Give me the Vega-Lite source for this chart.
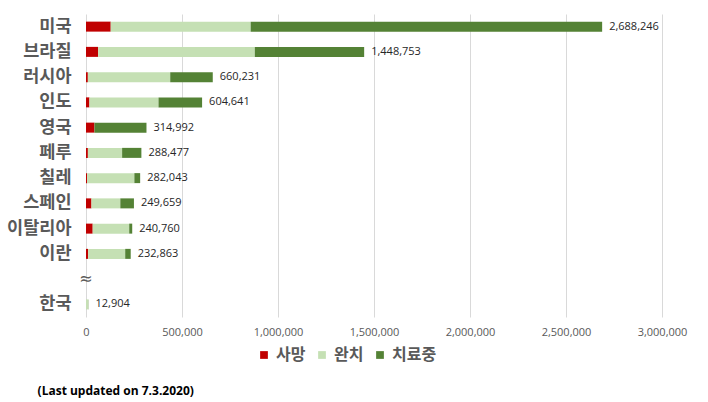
{
  "$schema": "https://vega.github.io/schema/vega-lite/v6.json",
  "width": 576,
  "height": 303,
  "autosize": {"type": "none"},
  "padding": {"left": 86, "top": 14, "right": 46, "bottom": 85},
  "background": "white",
  "title": {
    "text": "(Last updated on 7.3.2020)",
    "orient": "bottom",
    "anchor": "start",
    "dx": 31,
    "offset": 23,
    "font": "Open Sans",
    "fontSize": 12,
    "fontWeight": "bold",
    "color": "#000000"
  },
  "datasets": {
    "cases": [
      {"country": "미국", "status": "사망", "ord": 1, "value": 128740},
      {"country": "미국", "status": "완치", "ord": 2, "value": 729000},
      {"country": "미국", "status": "치료중", "ord": 3, "value": 1830506},
      {"country": "브라질", "status": "사망", "ord": 1, "value": 63174},
      {"country": "브라질", "status": "완치", "ord": 2, "value": 816000},
      {"country": "브라질", "status": "치료중", "ord": 3, "value": 569579},
      {"country": "러시아", "status": "사망", "ord": 1, "value": 9683},
      {"country": "러시아", "status": "완치", "ord": 2, "value": 428978},
      {"country": "러시아", "status": "치료중", "ord": 3, "value": 221570},
      {"country": "인도", "status": "사망", "ord": 1, "value": 17834},
      {"country": "인도", "status": "완치", "ord": 2, "value": 359860},
      {"country": "인도", "status": "치료중", "ord": 3, "value": 226947},
      {"country": "영국", "status": "사망", "ord": 1, "value": 43906},
      {"country": "영국", "status": "완치", "ord": 2, "value": 0},
      {"country": "영국", "status": "치료중", "ord": 3, "value": 271086},
      {"country": "페루", "status": "사망", "ord": 1, "value": 9860},
      {"country": "페루", "status": "완치", "ord": 2, "value": 178245},
      {"country": "페루", "status": "치료중", "ord": 3, "value": 100372},
      {"country": "칠레", "status": "사망", "ord": 1, "value": 5920},
      {"country": "칠레", "status": "완치", "ord": 2, "value": 246000},
      {"country": "칠레", "status": "치료중", "ord": 3, "value": 30123},
      {"country": "스페인", "status": "사망", "ord": 1, "value": 28385},
      {"country": "스페인", "status": "완치", "ord": 2, "value": 150376},
      {"country": "스페인", "status": "치료중", "ord": 3, "value": 70898},
      {"country": "이탈리아", "status": "사망", "ord": 1, "value": 34818},
      {"country": "이탈리아", "status": "완치", "ord": 2, "value": 190248},
      {"country": "이탈리아", "status": "치료중", "ord": 3, "value": 15694},
      {"country": "이란", "status": "사망", "ord": 1, "value": 10958},
      {"country": "이란", "status": "완치", "ord": 2, "value": 193217},
      {"country": "이란", "status": "치료중", "ord": 3, "value": 28688},
      {"country": "한국", "status": "사망", "ord": 1, "value": 282},
      {"country": "한국", "status": "완치", "ord": 2, "value": 11537},
      {"country": "한국", "status": "치료중", "ord": 3, "value": 1085}
    ],
    "gap": [{"country": " ", "sym": "≈", "value": 0}]
  },
  "config": {
    "view": {"stroke": null},
    "axis": {"labelFont": "Open Sans"}
  },
  "layer": [
    {
      "data": {"name": "cases"},
      "mark": {"type": "bar", "height": 10},
      "encoding": {
        "y": {
          "field": "country",
          "type": "nominal",
          "scale": {"domain": ["미국", "브라질", "러시아", "인도", "영국", "페루", "칠레", "스페인", "이탈리아", "이란", " ", "한국"], "paddingInner": 0.6, "paddingOuter": 0.3},
          "axis": {
            "title": null,
            "domain": false,
            "ticks": false,
            "labelPadding": 15,
            "labelFont": "Noto Sans CJK KR",
            "labelFontSize": 17.5,
            "labelFontWeight": "bold",
            "labelColor": "#595959"
          }
        },
        "x": {
          "field": "value",
          "type": "quantitative",
          "aggregate": "sum",
          "stack": "zero",
          "scale": {"domain": [0, 3000000], "nice": false},
          "axis": {
            "title": null,
            "values": [0, 500000, 1000000, 1500000, 2000000, 2500000, 3000000],
            "format": ",d",
            "domain": false,
            "ticks": false,
            "grid": true,
            "gridColor": "#D9D9D9",
            "gridWidth": 1,
            "labelFlush": false,
            "labelPadding": 9,
            "labelFontSize": 11,
            "labelColor": "#595959",
            "labelFont": "Open Sans"
          }
        },
        "color": {
          "field": "status",
          "type": "nominal",
          "scale": {"domain": ["사망", "완치", "치료중"], "range": ["#C00000", "#C5E0B4", "#548235"]},
          "legend": {
            "title": null,
            "orient": "none",
            "direction": "horizontal",
            "legendX": 170,
            "legendY": 333,
            "padding": 0,
            "symbolType": "square",
            "symbolSize": 60,
            "symbolStrokeWidth": 0,
            "labelFont": "Noto Sans CJK KR",
            "labelFontSize": 16,
            "labelFontWeight": "bold",
            "labelColor": "#595959",
            "labelOffset": 4,
            "columnPadding": 8
          }
        },
        "order": {"field": "ord", "type": "quantitative"}
      }
    },
    {
      "data": {"name": "cases"},
      "mark": {"type": "text", "align": "left", "baseline": "middle", "dx": 7, "font": "Open Sans", "fontSize": 11, "color": "#262626"},
      "encoding": {
        "y": {"field": "country", "type": "nominal"},
        "x": {"field": "value", "type": "quantitative", "aggregate": "sum"},
        "text": {"field": "value", "type": "quantitative", "aggregate": "sum", "format": ",d"}
      }
    },
    {
      "data": {"name": "gap"},
      "mark": {"type": "text", "align": "center", "baseline": "middle", "font": "DejaVu Sans", "fontSize": 16, "color": "#595959"},
      "encoding": {
        "y": {"field": "country", "type": "nominal"},
        "x": {"field": "value", "type": "quantitative"},
        "text": {"field": "sym"}
      }
    }
  ]
}
